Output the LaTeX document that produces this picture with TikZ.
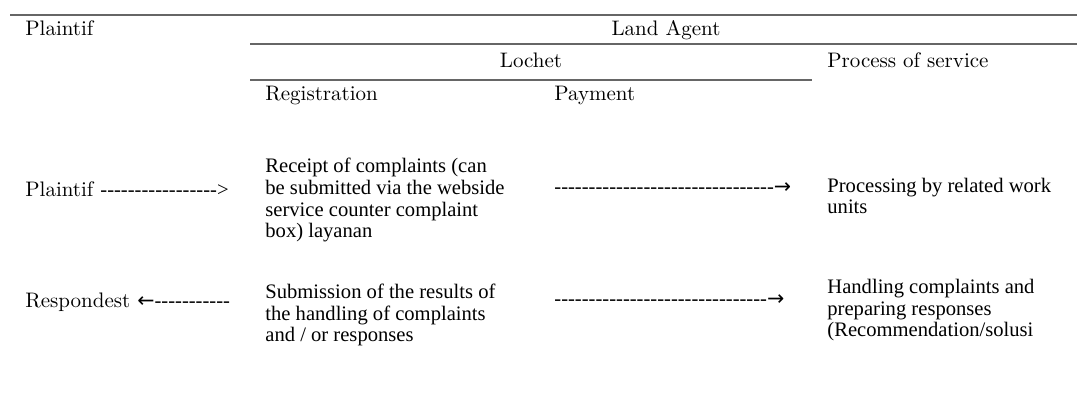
\documentclass[tikz,border=0pt]{standalone}
\usepackage{fontspec}
\newfontfamily\bodyfont{Liberation Serif}
\newfontfamily\arrowfont{DejaVu Sans}
\usetikzlibrary{positioning}
\newcommand\dashes[1]{\foreach \k in {1,...,#1}{\mbox{-}}}

\begin{document}
\begin{tikzpicture}[
  x=0.5pt, y=-0.5pt,
  head/.style={inner sep=0pt, anchor=base west, font=\fontsize{10.5}{12}\selectfont},
  cell/.style={inner sep=0pt, anchor=base west, align=left, font=\bodyfont\fontsize{10.3}{10.85}\selectfont},
  rule/.style={line width=0.8pt, black!60},
  toprule/.style={rule, line width=1.1pt}
]
\useasboundingbox (0,0) rectangle (1077,394);

% table rules
\draw[toprule] (10,15) -- (1077,15);
\draw[rule] (250,44) -- (1077,44);
\draw[rule] (250,80) -- (812,80);

% header
\node[head] (plaintifhead) at (25,36) {Plaintif};
\node[head, anchor=base] (landagent) at (666,36) {Land Agent};
\node[head, anchor=base] (lochet) at (531,68) {Lochet};
\node[head] (process) at (827,68) {Process of service};
\node[head] (registration) at (265,101) {Registration};
\node[head] (payment) at (554,101) {Payment};

% first row (cells placed by the baseline of their last line)
\node[head] (plaintif) at (25,197) {Plaintif {\bodyfont\fontsize{10.3}{11}\selectfont\dashes{17}>}};
\node[cell] (receipt) at (265,238) {Receipt of complaints (can\\be submitted via the webside\\service counter complaint\\box) layanan};
\node[cell] (arrowone) at (554,194) {\dashes{32}{\arrowfont →}};
\node[cell] (processing) at (827,214) {Processing by related work\\units};

% second row
\node[head] (respondest) at (25,308) {Respondest {\arrowfont\fontsize{10.3}{11}\selectfont ←}{\bodyfont\fontsize{10.3}{11}\selectfont\dashes{11}}};
\node[cell] (submission) at (265,342) {Submission of the results of\\the handling of complaints\\and / or responses};
\node[cell] (arrowtwo) at (554,306) {\dashes{31}{\arrowfont →}};
\node[cell] (handling) at (827,337) {Handling complaints and\\preparing responses\\(Recommendation/solusi};

\end{tikzpicture}
\end{document}
